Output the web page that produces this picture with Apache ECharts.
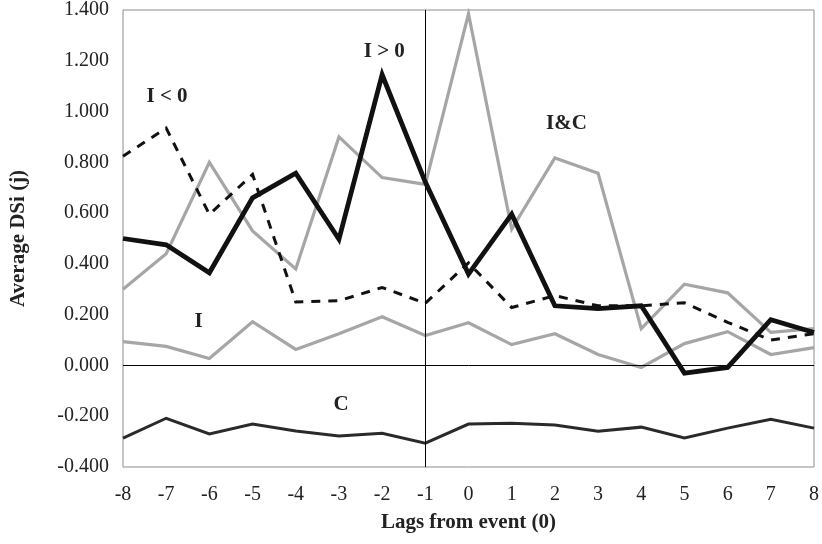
<!DOCTYPE html>
<html>
<head>
<meta charset="utf-8">
<script src="https://cdn.jsdelivr.net/npm/echarts@6/dist/echarts.min.js"></script>
<style>
  html, body { margin: 0; padding: 0; background: #fff; }
  #chart { width: 822px; height: 544px; }
</style>
</head>
<body>
<div id="chart"></div>
<script>
// Lags around the event
const lags = [-8, -7, -6, -5, -4, -3, -2, -1, 0, 1, 2, 3, 4, 5, 6, 7, 8];

// Average DSi(j) per lag, one array per group
const seriesIpos = [0.50, 0.475, 0.365, 0.66, 0.757, 0.497, 1.145, 0.722, 0.36, 0.596, 0.235, 0.224, 0.235, -0.03, -0.008, 0.18, 0.13];
const seriesIneg = [0.824, 0.935, 0.595, 0.752, 0.25, 0.255, 0.307, 0.245, 0.404, 0.228, 0.275, 0.235, 0.235, 0.247, 0.17, 0.10, 0.125];
const seriesIC   = [0.30, 0.44, 0.80, 0.53, 0.38, 0.90, 0.74, 0.713, 1.385, 0.537, 0.817, 0.757, 0.145, 0.32, 0.286, 0.13, 0.145];
const seriesI    = [0.094, 0.075, 0.027, 0.172, 0.063, 0.125, 0.192, 0.118, 0.168, 0.082, 0.125, 0.043, -0.008, 0.086, 0.133, 0.043, 0.07];
const seriesC    = [-0.286, -0.208, -0.27, -0.231, -0.258, -0.278, -0.267, -0.306, -0.231, -0.228, -0.235, -0.259, -0.243, -0.286, -0.247, -0.212, -0.247];

// Group names written next to their lines (lag, value)
const groupLabels = [
  { text: 'I > 0', lag: -1.95, value: 1.235 },
  { text: 'I < 0', lag: -6.98, value: 1.059 },
  { text: 'I&C',   lag: 2.27,  value: 0.953 },
  { text: 'I',     lag: -6.25, value: 0.173 },
  { text: 'C',     lag: -2.95, value: -0.153 }
];

const pairs = arr => lags.map((l, i) => [l, arr[i]]);
const FONT = '"Liberation Serif", "Times New Roman", serif';

const chart = echarts.init(document.getElementById('chart'), null, { renderer: 'canvas' });

const lineSeries = (name, data, color, width, type, z) => ({
  name, type: 'line', data: pairs(data), symbol: 'none', z,
  lineStyle: { color, width, type, join: 'miter', cap: 'butt' },
  animation: false
});

chart.setOption({
  backgroundColor: '#fff',
  animation: false,
  grid: { left: 111, right: 7, top: 8, bottom: 77, show: true, borderColor: '#8c8c8c', borderWidth: 1 },
  xAxis: {
    type: 'value', min: -8, max: 8, interval: 1,
    axisLine: { show: false }, axisTick: { show: false }, splitLine: { show: false },
    axisLabel: { color: '#222', fontFamily: FONT, fontSize: 20, margin: 18 },
    name: 'Lags from event (0)', nameLocation: 'middle', nameGap: 45,
    nameTextStyle: { color: '#222', fontFamily: FONT, fontSize: 21, fontWeight: 'bold' }
  },
  yAxis: {
    type: 'value', min: -0.4, max: 1.4, interval: 0.2,
    axisLine: { show: false }, axisTick: { show: false }, splitLine: { show: false },
    axisLabel: { color: '#222', fontFamily: FONT, fontSize: 20, margin: 14, formatter: v => v.toFixed(3) },
    name: 'Average DSi (j)', nameLocation: 'middle', nameGap: 94,
    nameTextStyle: { color: '#222', fontFamily: FONT, fontSize: 21, fontWeight: 'bold' }
  },
  series: [
    Object.assign(lineSeries('I', seriesI, '#a6a6a6', 3.2, 'solid', 2), {
      markLine: {
        silent: true, symbol: 'none', label: { show: false },
        lineStyle: { color: '#000', width: 1, type: 'solid' },
        data: [{ yAxis: 0 }, { xAxis: -1 }]
      }
    }),
    lineSeries('I&C', seriesIC, '#a6a6a6', 3.2, 'solid', 2),
    lineSeries('C', seriesC, '#2a2a2a', 3, 'solid', 3),
    lineSeries('I<0', seriesIneg, '#111', 3, [9, 8], 4),
    lineSeries('I>0', seriesIpos, '#111', 4.8, 'solid', 5)
  ]
});

// Place the group names at their data positions
chart.setOption({
  graphic: groupLabels.map(g => {
    const p = chart.convertToPixel({ gridIndex: 0 }, [g.lag, g.value]);
    return {
      type: 'text', x: p[0], y: p[1], z: 10,
      style: {
        text: g.text, fill: '#222', font: 'bold 21px ' + FONT,
        textAlign: 'center', textVerticalAlign: 'middle'
      }
    };
  })
});
</script>
</body>
</html>
